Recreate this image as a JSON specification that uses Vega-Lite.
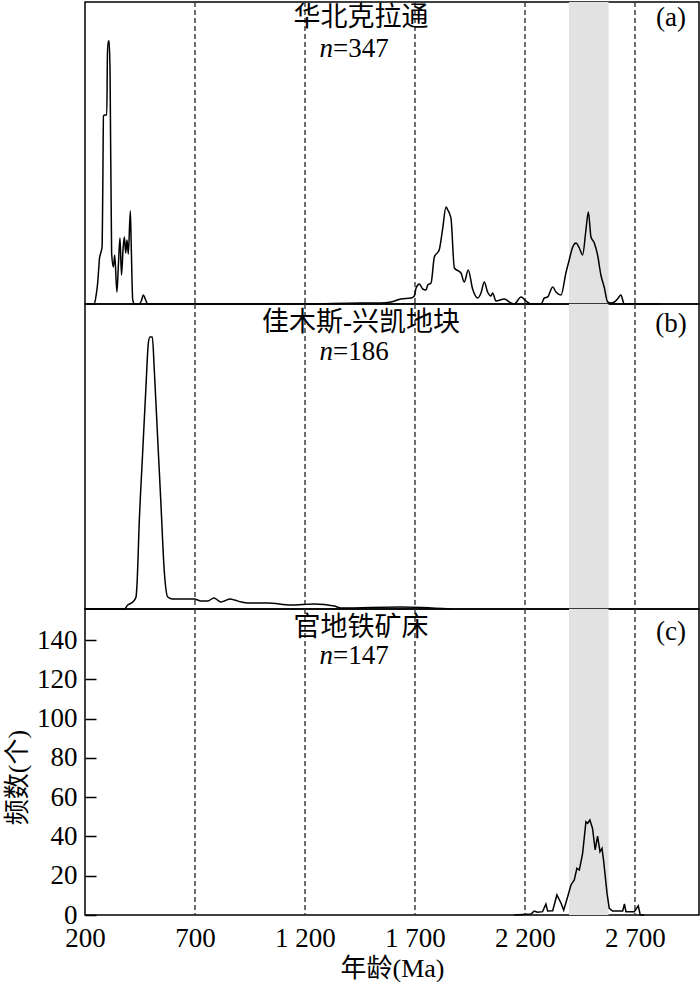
{
  "$schema": "https://vega.github.io/schema/vega-lite/v6.json",
  "padding": {"left": 3, "top": 0, "right": 0, "bottom": 0},
  "background": "#ffffff",
  "config": {
    "view": {"stroke": "#000", "strokeWidth": 1.5},
    "concat": {"spacing": 0},
    "font": "Liberation Serif"
  },
  "spacing": 0,
  "bounds": "flush",
  "datasets": {
    "band": [{"start": 2400, "end": 2580}],
    "refs": [{"age": 700}, {"age": 1200}, {"age": 1700}, {"age": 2200}, {"age": 2700}],
    "labels": [
      {"panel": "a", "title": "华北克拉通", "n": "=347", "tag": "(a)"},
      {"panel": "b", "title": "佳木斯-兴凯地块", "n": "=186", "tag": "(b)"},
      {"panel": "c", "title": "官地铁矿床", "n": "=147", "tag": "(c)"}
    ],
    "curves": [
      {"panel": "a", "age": 200, "value": 0}, {"panel": "a", "age": 242, "value": 0}, {"panel": "a", "age": 250, "value": 8}, {"panel": "a", "age": 258, "value": 22}, {"panel": "a", "age": 262, "value": 34}, {"panel": "a", "age": 266, "value": 46}, {"panel": "a", "age": 273, "value": 52}, {"panel": "a", "age": 278, "value": 58}, {"panel": "a", "age": 281, "value": 120}, {"panel": "a", "age": 284, "value": 188}, {"panel": "a", "age": 290, "value": 189}, {"panel": "a", "age": 299, "value": 189}, {"panel": "a", "age": 302, "value": 250}, {"panel": "a", "age": 306, "value": 263}, {"panel": "a", "age": 310, "value": 263}, {"panel": "a", "age": 314, "value": 230}, {"panel": "a", "age": 321, "value": 51}, {"panel": "a", "age": 329, "value": 37}, {"panel": "a", "age": 335, "value": 49}, {"panel": "a", "age": 345, "value": 12}, {"panel": "a", "age": 352, "value": 40}, {"panel": "a", "age": 359, "value": 66}, {"panel": "a", "age": 366, "value": 29}, {"panel": "a", "age": 373, "value": 55}, {"panel": "a", "age": 379, "value": 67}, {"panel": "a", "age": 385, "value": 51}, {"panel": "a", "age": 391, "value": 64}, {"panel": "a", "age": 397, "value": 50}, {"panel": "a", "age": 406, "value": 93}, {"panel": "a", "age": 410, "value": 60}, {"panel": "a", "age": 417, "value": 4}, {"panel": "a", "age": 425, "value": 0}, {"panel": "a", "age": 445, "value": 0}, {"panel": "a", "age": 456, "value": 3}, {"panel": "a", "age": 465, "value": 9}, {"panel": "a", "age": 474, "value": 5}, {"panel": "a", "age": 485, "value": 0}, {"panel": "a", "age": 800, "value": 0}, {"panel": "a", "age": 1200, "value": 0}, {"panel": "a", "age": 1450, "value": 1}, {"panel": "a", "age": 1545, "value": 1}, {"panel": "a", "age": 1591, "value": 2}, {"panel": "a", "age": 1636, "value": 5}, {"panel": "a", "age": 1682, "value": 6}, {"panel": "a", "age": 1697, "value": 8}, {"panel": "a", "age": 1705, "value": 16}, {"panel": "a", "age": 1720, "value": 20}, {"panel": "a", "age": 1735, "value": 15}, {"panel": "a", "age": 1750, "value": 14}, {"panel": "a", "age": 1758, "value": 19}, {"panel": "a", "age": 1773, "value": 21}, {"panel": "a", "age": 1788, "value": 47}, {"panel": "a", "age": 1810, "value": 54}, {"panel": "a", "age": 1825, "value": 74}, {"panel": "a", "age": 1841, "value": 97}, {"panel": "a", "age": 1849, "value": 94}, {"panel": "a", "age": 1856, "value": 91}, {"panel": "a", "age": 1864, "value": 85}, {"panel": "a", "age": 1879, "value": 36}, {"panel": "a", "age": 1909, "value": 31}, {"panel": "a", "age": 1924, "value": 22}, {"panel": "a", "age": 1942, "value": 34}, {"panel": "a", "age": 1962, "value": 15}, {"panel": "a", "age": 1985, "value": 6}, {"panel": "a", "age": 2000, "value": 11}, {"panel": "a", "age": 2015, "value": 22}, {"panel": "a", "age": 2030, "value": 12}, {"panel": "a", "age": 2045, "value": 8}, {"panel": "a", "age": 2053, "value": 11}, {"panel": "a", "age": 2068, "value": 3}, {"panel": "a", "age": 2106, "value": 5}, {"panel": "a", "age": 2136, "value": 1}, {"panel": "a", "age": 2151, "value": 0}, {"panel": "a", "age": 2182, "value": 7}, {"panel": "a", "age": 2205, "value": 3}, {"panel": "a", "age": 2227, "value": 0}, {"panel": "a", "age": 2273, "value": 0}, {"panel": "a", "age": 2288, "value": 6}, {"panel": "a", "age": 2303, "value": 7}, {"panel": "a", "age": 2326, "value": 17}, {"panel": "a", "age": 2341, "value": 12}, {"panel": "a", "age": 2364, "value": 9}, {"panel": "a", "age": 2386, "value": 31}, {"panel": "a", "age": 2401, "value": 44}, {"panel": "a", "age": 2417, "value": 57}, {"panel": "a", "age": 2432, "value": 61}, {"panel": "a", "age": 2447, "value": 56}, {"panel": "a", "age": 2462, "value": 49}, {"panel": "a", "age": 2477, "value": 74}, {"panel": "a", "age": 2488, "value": 92}, {"panel": "a", "age": 2500, "value": 67}, {"panel": "a", "age": 2515, "value": 61}, {"panel": "a", "age": 2530, "value": 49}, {"panel": "a", "age": 2545, "value": 29}, {"panel": "a", "age": 2560, "value": 17}, {"panel": "a", "age": 2576, "value": 2}, {"panel": "a", "age": 2591, "value": 1}, {"panel": "a", "age": 2606, "value": 2}, {"panel": "a", "age": 2624, "value": 6}, {"panel": "a", "age": 2636, "value": 9}, {"panel": "a", "age": 2651, "value": 0}, {"panel": "a", "age": 2682, "value": 0}, {"panel": "a", "age": 2805, "value": 0},
      {"panel": "b", "age": 200, "value": 0}, {"panel": "b", "age": 379, "value": 0}, {"panel": "b", "age": 394, "value": 4}, {"panel": "b", "age": 417, "value": 7}, {"panel": "b", "age": 432, "value": 12}, {"panel": "b", "age": 436, "value": 23}, {"panel": "b", "age": 447, "value": 89}, {"panel": "b", "age": 462, "value": 156}, {"panel": "b", "age": 477, "value": 222}, {"panel": "b", "age": 488, "value": 266}, {"panel": "b", "age": 495, "value": 272}, {"panel": "b", "age": 506, "value": 272}, {"panel": "b", "age": 515, "value": 239}, {"panel": "b", "age": 530, "value": 172}, {"panel": "b", "age": 545, "value": 106}, {"panel": "b", "age": 560, "value": 39}, {"panel": "b", "age": 576, "value": 12}, {"panel": "b", "age": 598, "value": 10}, {"panel": "b", "age": 621, "value": 10}, {"panel": "b", "age": 697, "value": 10}, {"panel": "b", "age": 727, "value": 8}, {"panel": "b", "age": 758, "value": 8}, {"panel": "b", "age": 786, "value": 11}, {"panel": "b", "age": 818, "value": 7}, {"panel": "b", "age": 833, "value": 8}, {"panel": "b", "age": 860, "value": 10}, {"panel": "b", "age": 879, "value": 9}, {"panel": "b", "age": 910, "value": 7}, {"panel": "b", "age": 940, "value": 6}, {"panel": "b", "age": 1030, "value": 6}, {"panel": "b", "age": 1136, "value": 4}, {"panel": "b", "age": 1242, "value": 5}, {"panel": "b", "age": 1333, "value": 3}, {"panel": "b", "age": 1364, "value": 1}, {"panel": "b", "age": 1636, "value": 2}, {"panel": "b", "age": 1864, "value": 0},
      {"panel": "c", "age": 2151, "value": 0}, {"panel": "c", "age": 2227, "value": 0.5}, {"panel": "c", "age": 2242, "value": 2}, {"panel": "c", "age": 2257, "value": 1.4}, {"panel": "c", "age": 2280, "value": 1.7}, {"panel": "c", "age": 2295, "value": 5.6}, {"panel": "c", "age": 2303, "value": 2}, {"panel": "c", "age": 2326, "value": 2.2}, {"panel": "c", "age": 2345, "value": 10.2}, {"panel": "c", "age": 2364, "value": 6}, {"panel": "c", "age": 2376, "value": 2.5}, {"panel": "c", "age": 2394, "value": 9.3}, {"panel": "c", "age": 2409, "value": 15.3}, {"panel": "c", "age": 2424, "value": 17.8}, {"panel": "c", "age": 2436, "value": 23.8}, {"panel": "c", "age": 2447, "value": 22.9}, {"panel": "c", "age": 2462, "value": 31.4}, {"panel": "c", "age": 2477, "value": 47.5}, {"panel": "c", "age": 2485, "value": 46.7}, {"panel": "c", "age": 2495, "value": 48.4}, {"panel": "c", "age": 2507, "value": 44.1}, {"panel": "c", "age": 2519, "value": 33.1}, {"panel": "c", "age": 2530, "value": 40.2}, {"panel": "c", "age": 2541, "value": 32.2}, {"panel": "c", "age": 2550, "value": 34}, {"panel": "c", "age": 2557, "value": 28}, {"panel": "c", "age": 2573, "value": 11}, {"panel": "c", "age": 2583, "value": 3.4}, {"panel": "c", "age": 2598, "value": 2}, {"panel": "c", "age": 2644, "value": 2}, {"panel": "c", "age": 2652, "value": 5.6}, {"panel": "c", "age": 2659, "value": 1.7}, {"panel": "c", "age": 2697, "value": 1.7}, {"panel": "c", "age": 2715, "value": 4.7}, {"panel": "c", "age": 2724, "value": 0}, {"panel": "c", "age": 2742, "value": 0}
    ]
  },
  "vconcat": [
    {
      "width": 614, "height": 302,
      "layer": [
        {"data": {"name": "band"}, "mark": {"type": "rect", "color": "#e2e2e2"},
         "encoding": {"x": {"field": "start", "type": "quantitative", "scale": {"domain": [200, 2991], "nice": false, "zero": false}, "axis": null}, "x2": {"field": "end"}}},
        {"data": {"name": "refs"}, "mark": {"type": "rule", "strokeDash": [5, 3], "color": "#333", "strokeWidth": 1.4},
         "encoding": {"x": {"field": "age", "type": "quantitative", "axis": null}}},
        {"data": {"name": "curves"}, "transform": [{"filter": "datum.panel === 'a'"}],
         "mark": {"type": "line", "color": "#000", "strokeWidth": 1.5, "interpolate": "monotone"},
         "encoding": {"x": {"field": "age", "type": "quantitative", "axis": null}, "y": {"field": "value", "type": "quantitative", "scale": {"domain": [0, 302], "nice": false}, "axis": null}}},
        {"data": {"name": "labels"}, "transform": [{"filter": "datum.panel === 'a'"}],
         "mark": {"type": "text", "font": "Liberation Serif, Noto Sans CJK SC", "fontSize": 27, "align": "center", "baseline": "middle", "color": "#000"},
         "encoding": {"x": {"datum": 1455, "type": "quantitative", "axis": null}, "y": {"datum": 286, "type": "quantitative", "axis": null}, "text": {"field": "title"}}},
        {"data": {"name": "labels"}, "transform": [{"filter": "datum.panel === 'a'"}],
         "mark": {"type": "text", "font": "Liberation Serif", "fontStyle": "italic", "fontSize": 27, "align": "right", "baseline": "middle", "color": "#000"},
         "encoding": {"x": {"datum": 1327, "type": "quantitative", "axis": null}, "y": {"datum": 255, "type": "quantitative", "axis": null}, "text": {"value": "n"}}},
        {"data": {"name": "labels"}, "transform": [{"filter": "datum.panel === 'a'"}],
         "mark": {"type": "text", "font": "Liberation Serif", "fontSize": 27, "align": "left", "baseline": "middle", "color": "#000"},
         "encoding": {"x": {"datum": 1327, "type": "quantitative", "axis": null}, "y": {"datum": 255, "type": "quantitative", "axis": null}, "text": {"field": "n"}}},
        {"data": {"name": "labels"}, "transform": [{"filter": "datum.panel === 'a'"}],
         "mark": {"type": "text", "font": "Liberation Serif", "fontSize": 27, "align": "center", "baseline": "middle", "color": "#000"},
         "encoding": {"x": {"datum": 2864, "type": "quantitative", "axis": null}, "y": {"datum": 286, "type": "quantitative", "axis": null}, "text": {"field": "tag"}}}
      ]
    },
    {
      "width": 614, "height": 305,
      "layer": [
        {"data": {"name": "band"}, "mark": {"type": "rect", "color": "#e2e2e2"},
         "encoding": {"x": {"field": "start", "type": "quantitative", "scale": {"domain": [200, 2991], "nice": false, "zero": false}, "axis": null}, "x2": {"field": "end"}}},
        {"data": {"name": "refs"}, "mark": {"type": "rule", "strokeDash": [5, 3], "color": "#333", "strokeWidth": 1.4},
         "encoding": {"x": {"field": "age", "type": "quantitative", "axis": null}}},
        {"data": {"name": "curves"}, "transform": [{"filter": "datum.panel === 'b'"}],
         "mark": {"type": "line", "color": "#000", "strokeWidth": 1.5, "interpolate": "monotone"},
         "encoding": {"x": {"field": "age", "type": "quantitative", "axis": null}, "y": {"field": "value", "type": "quantitative", "scale": {"domain": [0, 305], "nice": false}, "axis": null}}},
        {"data": {"name": "labels"}, "transform": [{"filter": "datum.panel === 'b'"}],
         "mark": {"type": "text", "font": "Liberation Serif, Noto Sans CJK SC", "fontSize": 27, "align": "center", "baseline": "middle", "color": "#000"},
         "encoding": {"x": {"datum": 1455, "type": "quantitative", "axis": null}, "y": {"datum": 286, "type": "quantitative", "axis": null}, "text": {"field": "title"}}},
        {"data": {"name": "labels"}, "transform": [{"filter": "datum.panel === 'b'"}],
         "mark": {"type": "text", "font": "Liberation Serif", "fontStyle": "italic", "fontSize": 27, "align": "right", "baseline": "middle", "color": "#000"},
         "encoding": {"x": {"datum": 1327, "type": "quantitative", "axis": null}, "y": {"datum": 257, "type": "quantitative", "axis": null}, "text": {"value": "n"}}},
        {"data": {"name": "labels"}, "transform": [{"filter": "datum.panel === 'b'"}],
         "mark": {"type": "text", "font": "Liberation Serif", "fontSize": 27, "align": "left", "baseline": "middle", "color": "#000"},
         "encoding": {"x": {"datum": 1327, "type": "quantitative", "axis": null}, "y": {"datum": 257, "type": "quantitative", "axis": null}, "text": {"field": "n"}}},
        {"data": {"name": "labels"}, "transform": [{"filter": "datum.panel === 'b'"}],
         "mark": {"type": "text", "font": "Liberation Serif", "fontSize": 27, "align": "center", "baseline": "middle", "color": "#000"},
         "encoding": {"x": {"datum": 2864, "type": "quantitative", "axis": null}, "y": {"datum": 285, "type": "quantitative", "axis": null}, "text": {"field": "tag"}}}
      ]
    },
    {
      "width": 614, "height": 306,
      "layer": [
        {"data": {"name": "band"}, "mark": {"type": "rect", "color": "#e2e2e2"},
         "encoding": {"x": {"field": "start", "type": "quantitative", "scale": {"domain": [200, 2991], "nice": false, "zero": false}}, "x2": {"field": "end"}}},
        {"data": {"name": "refs"}, "mark": {"type": "rule", "strokeDash": [5, 3], "color": "#333", "strokeWidth": 1.4},
         "encoding": {"x": {"field": "age", "type": "quantitative"}}},
        {"data": {"name": "curves"}, "transform": [{"filter": "datum.panel === 'c'"}],
         "mark": {"type": "line", "color": "#000", "strokeWidth": 1.5, "interpolate": "linear"},
         "encoding": {
           "x": {"field": "age", "type": "quantitative",
                 "axis": {"values": [200, 700, 1200, 1700, 2200, 2700], "ticks": false, "domain": false, "grid": false,
                          "labelExpr": "datum.value < 1000 ? datum.label : floor(datum.value / 1000) + ' ' + format(datum.value % 1000, '03d')",
                          "labelFlush": false, "labelDx": 10, "labelPadding": 23, "labelBaseline": "middle",
                          "labelFont": "Liberation Serif", "labelFontSize": 27, "labelColor": "#000",
                          "title": "年龄(Ma)", "titleFont": "Liberation Serif, Noto Sans CJK SC", "titleFontSize": 26, "titleFontWeight": "normal", "titleColor": "#000",
                          "titleY": 53, "titleBaseline": "middle"}},
           "y": {"field": "value", "type": "quantitative", "scale": {"domain": [0, 155.8], "nice": false},
                 "axis": {"values": [0, 20, 40, 60, 80, 100, 120, 140], "tickSize": -11, "tickColor": "#000", "tickWidth": 1.5, "labelPadding": 19, "domain": false, "grid": false,
                          "labelFont": "Liberation Serif", "labelFontSize": 27, "labelColor": "#000",
                          "title": "频数(个)", "titleFont": "Liberation Serif, Noto Sans CJK SC", "titleFontSize": 26, "titleFontWeight": "normal", "titleColor": "#000",
                          "titleAngle": -90, "titleX": -68, "titleY": 168, "titleAlign": "center", "titleBaseline": "middle"}}}},
        {"data": {"name": "labels"}, "transform": [{"filter": "datum.panel === 'c'"}],
         "mark": {"type": "text", "font": "Liberation Serif, Noto Sans CJK SC", "fontSize": 27, "align": "center", "baseline": "middle", "color": "#000"},
         "encoding": {"x": {"datum": 1455, "type": "quantitative"}, "y": {"datum": 146, "type": "quantitative"}, "text": {"field": "title"}}},
        {"data": {"name": "labels"}, "transform": [{"filter": "datum.panel === 'c'"}],
         "mark": {"type": "text", "font": "Liberation Serif", "fontStyle": "italic", "fontSize": 27, "align": "right", "baseline": "middle", "color": "#000"},
         "encoding": {"x": {"datum": 1327, "type": "quantitative"}, "y": {"datum": 132, "type": "quantitative"}, "text": {"value": "n"}}},
        {"data": {"name": "labels"}, "transform": [{"filter": "datum.panel === 'c'"}],
         "mark": {"type": "text", "font": "Liberation Serif", "fontSize": 27, "align": "left", "baseline": "middle", "color": "#000"},
         "encoding": {"x": {"datum": 1327, "type": "quantitative"}, "y": {"datum": 132, "type": "quantitative"}, "text": {"field": "n"}}},
        {"data": {"name": "labels"}, "transform": [{"filter": "datum.panel === 'c'"}],
         "mark": {"type": "text", "font": "Liberation Serif", "fontSize": 27, "align": "center", "baseline": "middle", "color": "#000"},
         "encoding": {"x": {"datum": 2864, "type": "quantitative"}, "y": {"datum": 144, "type": "quantitative"}, "text": {"field": "tag"}}}
      ]
    }
  ]
}
